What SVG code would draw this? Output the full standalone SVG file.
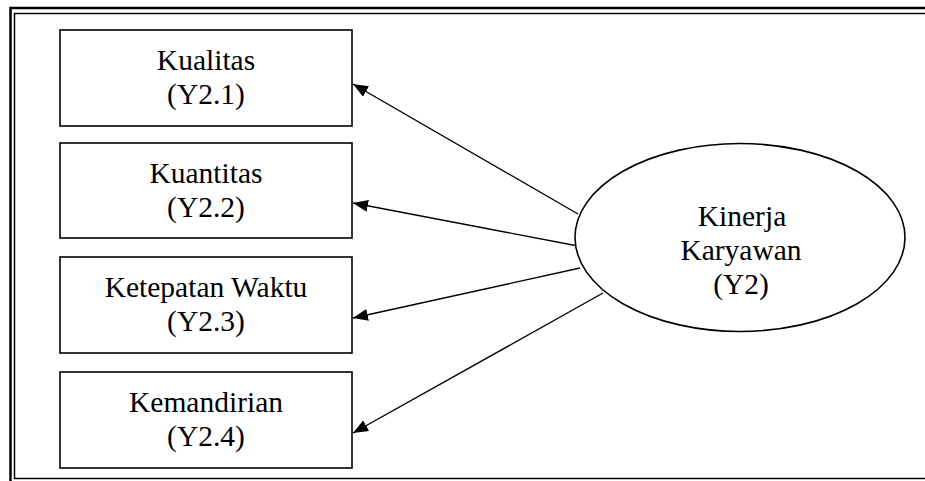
<svg xmlns="http://www.w3.org/2000/svg" width="925" height="481" viewBox="0 0 925 481">
  <style>
    .box { fill: #ffffff; stroke: #000000; stroke-width: 1.6; }
    .oval { fill: #ffffff; stroke: #000000; stroke-width: 1.6; }
    .lbl { font-family: "Liberation Serif", "Times New Roman", serif; font-size: 29.5px; fill: #000000; text-anchor: middle; }
    .edge { stroke: #000000; stroke-width: 1.4; fill: none; marker-end: url(#head); }
  </style>
  <defs>
    <marker id="head" markerUnits="userSpaceOnUse" markerWidth="16" markerHeight="12" refX="15" refY="6" orient="auto">
      <path d="M0,0 L15,6 L0,12 Z" fill="#000000"/>
    </marker>
  </defs>

  <rect width="925" height="481" fill="#ffffff"/>

  <!-- double page border -->
  <g id="frame" fill="none" stroke="#000000">
    <rect x="10.5" y="8" width="930" height="490" stroke-width="2.5"/>
    <rect x="14.5" y="13.5" width="920" height="465" stroke-width="1.5"/>
  </g>

  <g id="connectors">
    <line class="edge" x1="578" y1="214" x2="353" y2="84"/>
    <line class="edge" x1="578" y1="246" x2="353" y2="203"/>
    <line class="edge" x1="580" y1="268" x2="353" y2="318"/>
    <line class="edge" x1="603" y1="293" x2="353" y2="433"/>
  </g>

  <g id="y2-1">
    <rect class="box" x="60" y="30" width="292" height="96"/>
    <text class="lbl" x="206" y="69.5">Kualitas</text>
    <text class="lbl" x="206" y="104">(Y2.1)</text>
  </g>

  <g id="y2-2">
    <rect class="box" x="60" y="143" width="292" height="95"/>
    <text class="lbl" x="206" y="182.5">Kuantitas</text>
    <text class="lbl" x="206" y="217">(Y2.2)</text>
  </g>

  <g id="y2-3">
    <rect class="box" x="60" y="257" width="292" height="96"/>
    <text class="lbl" x="206" y="296.5">Ketepatan Waktu</text>
    <text class="lbl" x="206" y="331">(Y2.3)</text>
  </g>

  <g id="y2-4">
    <rect class="box" x="60" y="372" width="292" height="96"/>
    <text class="lbl" x="206" y="411.5">Kemandirian</text>
    <text class="lbl" x="206" y="446">(Y2.4)</text>
  </g>

  <g id="y2">
    <ellipse class="oval" cx="740" cy="237.5" rx="165" ry="94"/>
    <text class="lbl" x="742" y="226">Kinerja</text>
    <text class="lbl" x="741" y="260">Karyawan</text>
    <text class="lbl" x="741" y="294">(Y2)</text>
  </g>
</svg>
